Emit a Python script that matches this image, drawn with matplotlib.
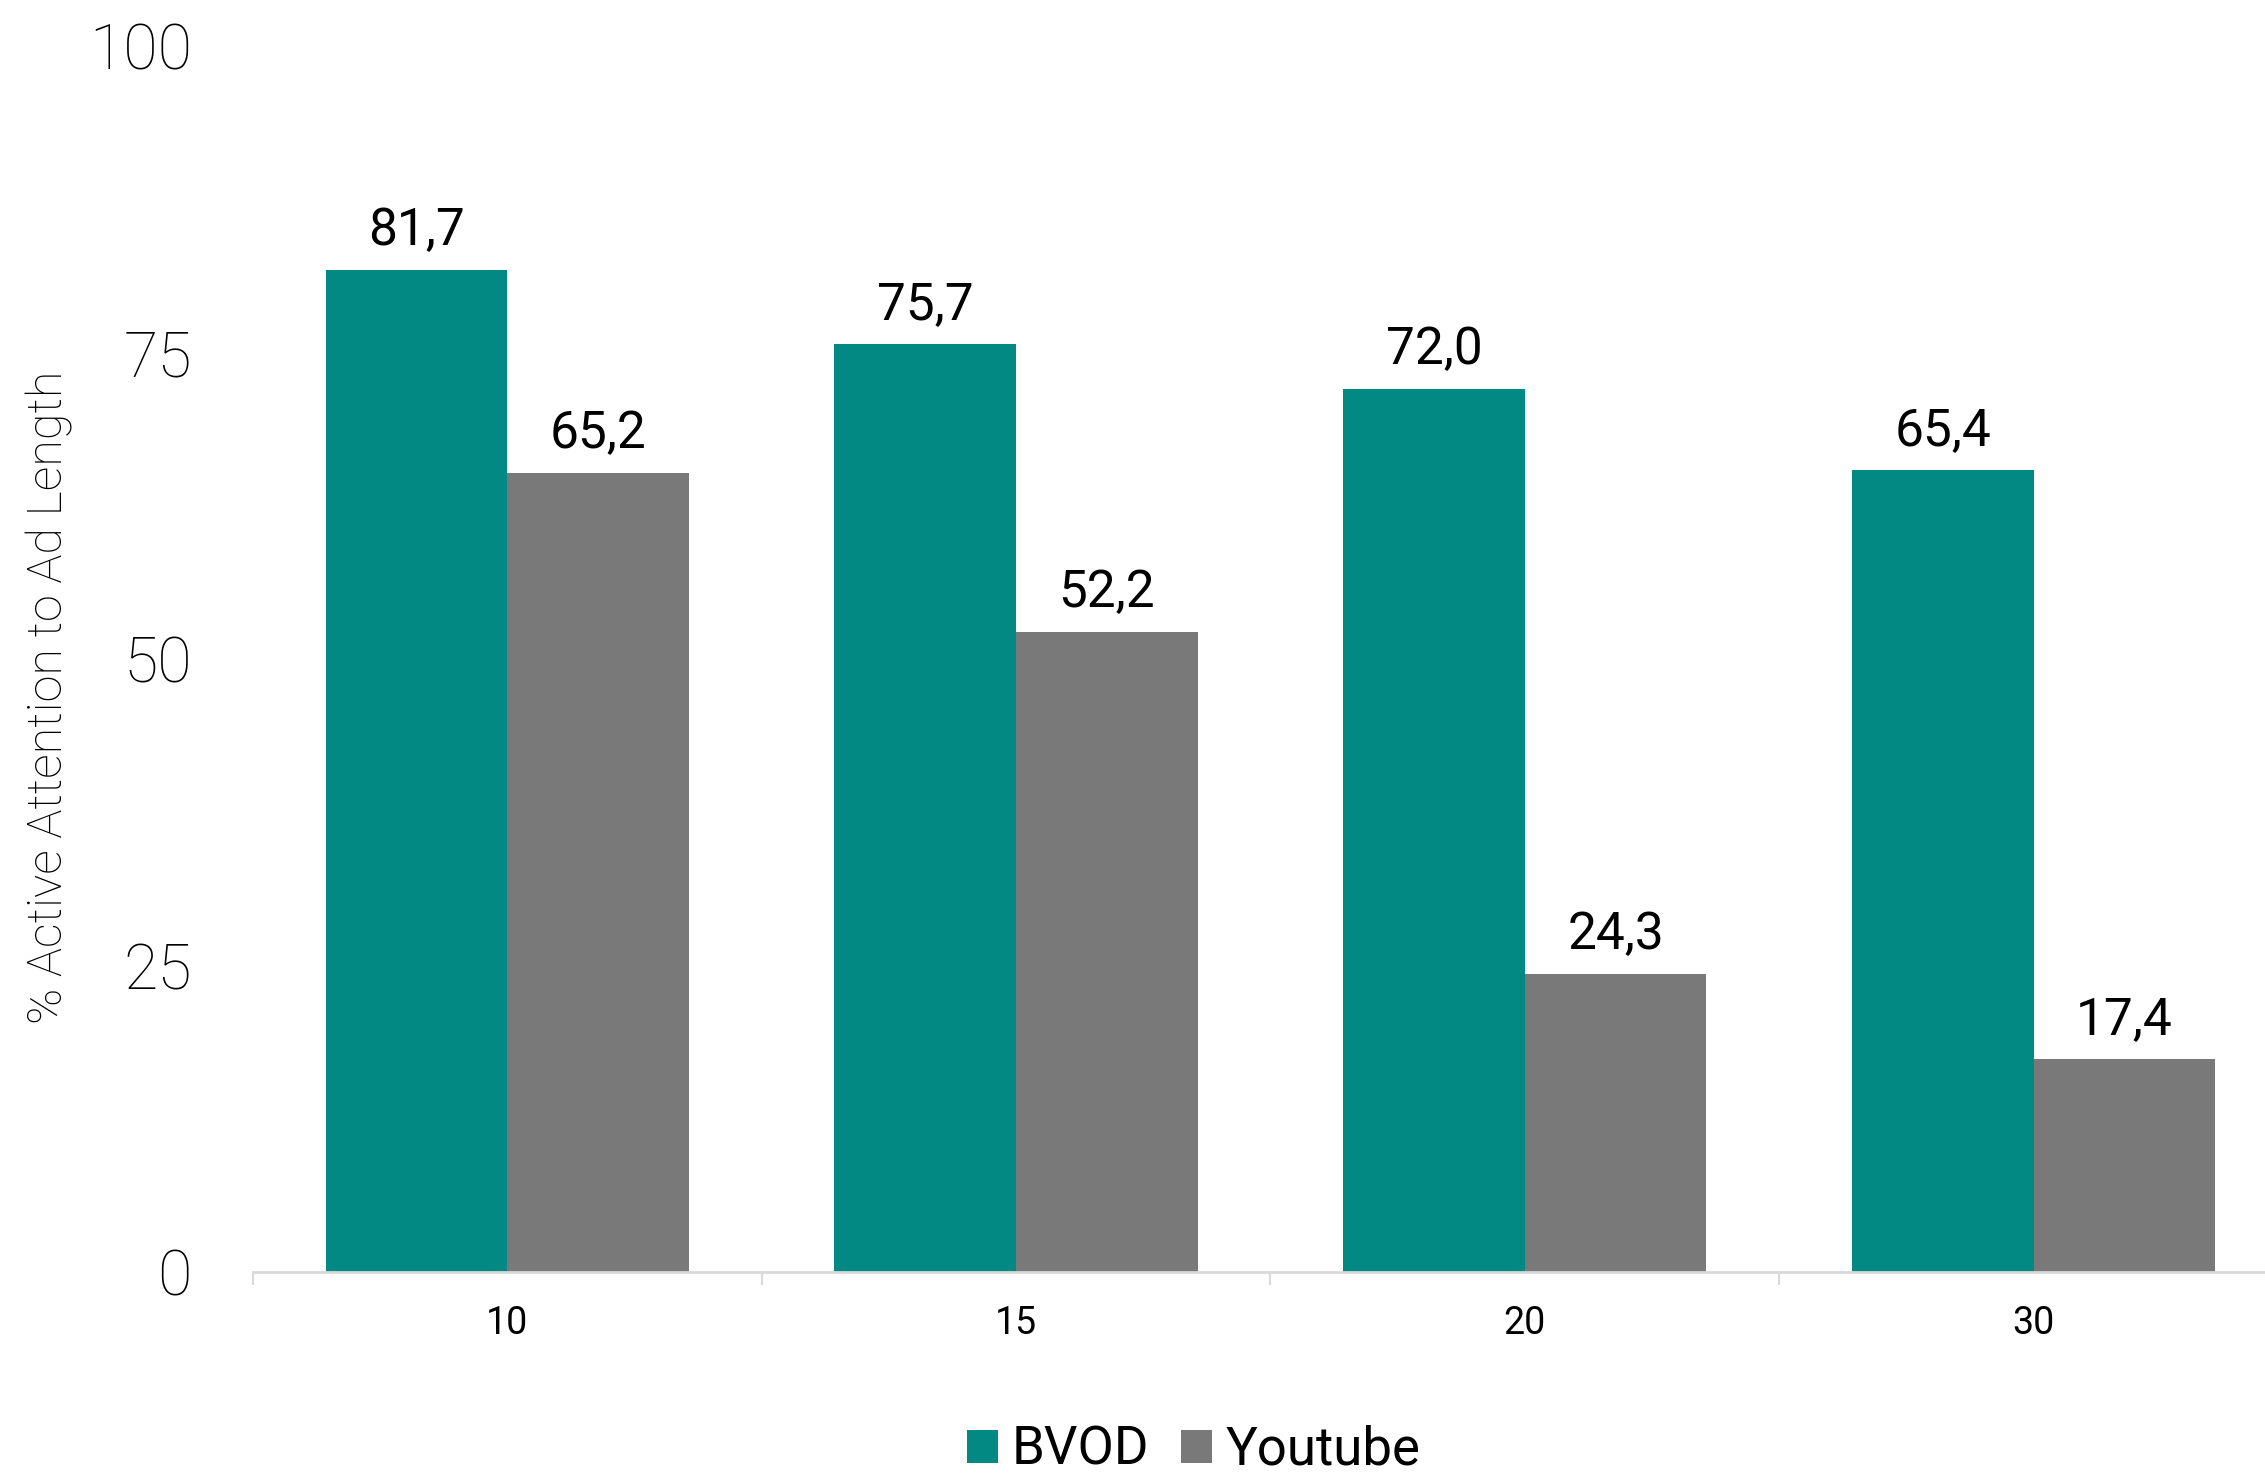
import numpy as np
import matplotlib.pyplot as plt
from matplotlib.ticker import FixedLocator

# data
ad_lengths = ["10", "15", "20", "30"]
bvod = [81.7, 75.7, 72.0, 65.4]
youtube = [65.2, 52.2, 24.3, 17.4]
y_ticks = [0, 25, 50, 75, 100]

teal = "#028984"
grey = "#797979"
axis_grey = "#d9d9d9"

fig = plt.figure(figsize=(22.65, 14.77), dpi=100)
ax = fig.add_axes([0.1117, 0.1388, 0.8883, 0.8301])

x = np.arange(len(ad_lengths))
w = 0.357
b1 = ax.bar(x - w / 2, bvod, w, color=teal, label="BVOD")
b2 = ax.bar(x + w / 2, youtube, w, color=grey, label="Youtube")

# value labels with decimal comma
for bars, vals in [(b1, bvod), (b2, youtube)]:
    for rect, v in zip(bars, vals):
        ax.annotate(f"{v:.1f}".replace(".", ","),
                    (rect.get_x() + rect.get_width() / 2, rect.get_height()),
                    xytext=(0, 10), textcoords="offset points",
                    ha="center", va="bottom", fontsize=37, family="Roboto")

ax.set_ylim(0, 100)
ax.set_xlim(-0.5, 3.455)
ax.set_yticks(y_ticks)
ax.set_yticklabels([str(t) for t in y_ticks], fontsize=45, family="Roboto",
                   fontweight="light")
ax.tick_params(axis="y", length=0, pad=44)

ax.set_xticks(x)
ax.set_xticklabels(ad_lengths, fontsize=27, family="Roboto")
ax.tick_params(axis="x", which="major", length=0, pad=24)
ax.xaxis.set_minor_locator(FixedLocator([-0.5, 0.5, 1.5, 2.5, 3.5]))
ax.tick_params(axis="x", which="minor", length=9, width=1.5, color=axis_grey)

for s in ["top", "right", "left"]:
    ax.spines[s].set_visible(False)
ax.spines["bottom"].set_color(axis_grey)
ax.spines["bottom"].set_linewidth(2)

fig.text(0.022, 0.528, "% Active Attention to Ad Length", rotation=90,
         ha="center", va="center", fontsize=35, family="Roboto",
         fontweight="light")

leg = fig.legend(loc="center", bbox_to_anchor=(0.527, 0.018), ncol=2,
                 frameon=False, handlelength=0.6,
                 handleheight=0.6, handletextpad=0.25, columnspacing=0.6,
                 prop={"family": "Roboto", "size": 38})

fig.savefig("out.png", dpi=100)
